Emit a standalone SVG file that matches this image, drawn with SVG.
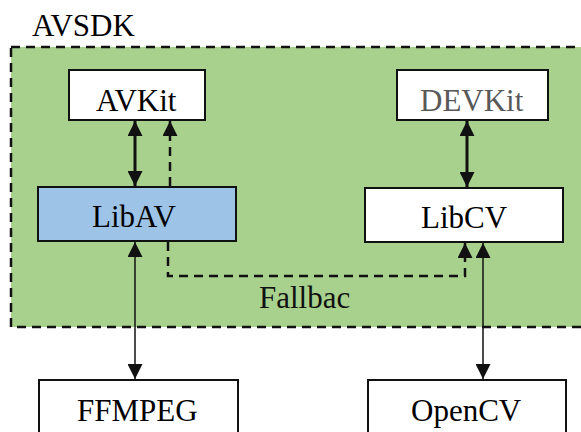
<svg xmlns="http://www.w3.org/2000/svg" width="581" height="432" viewBox="0 0 581 432">
<defs>
<marker id="ah" viewBox="0 0 15 15" refX="15" refY="7.5" markerWidth="15" markerHeight="15" markerUnits="userSpaceOnUse" orient="auto-start-reverse">
<path d="M0,0 L15,7.5 L0,15 z" fill="#111"/>
</marker>
</defs>
<g id="avsdk">
<rect x="11" y="47" width="580" height="280" fill="#A9D18E" stroke="#111" stroke-width="2.5" stroke-dasharray="9 6"/>
<text x="32" y="36" font-family="Times New Roman" font-size="31">AVSDK</text>
</g>
<g id="avkit"><rect x="69" y="70" width="136" height="50" fill="#fff" stroke="#111" stroke-width="2"/><text x="96" y="111" font-family="Times New Roman" font-size="31">AVKit</text></g>
<g id="devkit"><rect x="397" y="70" width="151" height="50" fill="#fff" stroke="#111" stroke-width="2"/><text x="420" y="111" font-family="Times New Roman" font-size="31" fill="#595959">DEVKit</text></g>
<g id="libav"><rect x="38" y="187" width="198" height="54" fill="#9DC3E6" stroke="#111" stroke-width="2"/><text x="92" y="227" font-family="Times New Roman" font-size="31">LibAV</text></g>
<g id="libcv"><rect x="365" y="188" width="198" height="54" fill="#fff" stroke="#111" stroke-width="2"/><text x="421" y="228" font-family="Times New Roman" font-size="31">LibCV</text></g>
<g id="ffmpeg"><rect x="39" y="380" width="199" height="60" fill="#fff" stroke="#111" stroke-width="2"/><text x="77" y="421" font-family="Times New Roman" font-size="31">FFMPEG</text></g>
<g id="opencv"><rect x="368" y="380" width="198" height="60" fill="#fff" stroke="#111" stroke-width="2"/><text x="411" y="421" font-family="Times New Roman" font-size="31">OpenCV</text></g>
<g id="connectors" fill="none" stroke="#111">
<line x1="135" y1="121" x2="135" y2="186" stroke-width="3" marker-start="url(#ah)" marker-end="url(#ah)"/>
<line x1="170" y1="186" x2="170" y2="121" stroke-width="2.5" stroke-dasharray="9 6" marker-end="url(#ah)"/>
<line x1="467" y1="121" x2="467" y2="187" stroke-width="3" marker-start="url(#ah)" marker-end="url(#ah)"/>
<polyline points="168,242 168,276 465,276 465,243" stroke-width="2.5" stroke-dasharray="9 6" marker-end="url(#ah)"/>
<line x1="135" y1="242" x2="135" y2="379" stroke-width="1.5" marker-start="url(#ah)" marker-end="url(#ah)"/>
<line x1="483" y1="243" x2="483" y2="379" stroke-width="1.5" marker-start="url(#ah)" marker-end="url(#ah)"/>
<text x="259" y="308" font-family="Times New Roman" font-size="31" fill="#111" stroke="none">Fallbac</text>
</g>
</svg>
